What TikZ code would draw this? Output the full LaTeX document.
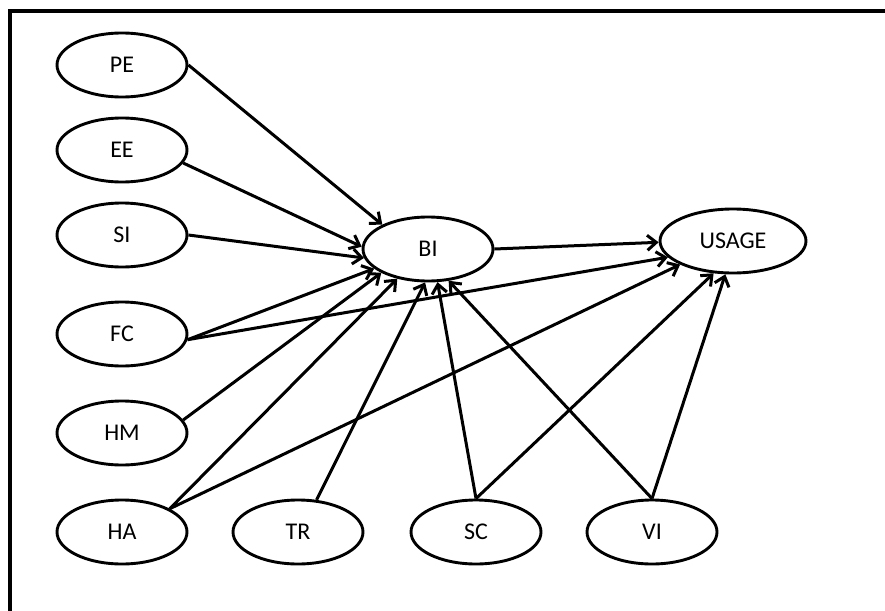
\documentclass[tikz,border=0pt]{standalone}
\usepackage{fontspec}
\setmainfont{Carlito}
\usetikzlibrary{arrows.meta,shapes.geometric}
\begin{document}
\begin{tikzpicture}[x=1pt,y=-1pt,
  construct/.style={draw, ellipse, line width=2.9pt, inner sep=0pt,
    minimum width=130pt, minimum height=64pt, font=\fontsize{24}{28}\selectfont},
  path/.style={line width=3pt, -{Straight Barb[length=9pt,width=15pt]}}]
  \useasboundingbox (0,0) rectangle (885,610);
  % outer frame
  \draw[line width=3.2pt] (10,612) -- (10,11) -- (888,11);

  % exogenous constructs
  \node[construct] (PE) at (122,65)  {PE};
  \node[construct] (EE) at (122,150) {EE};
  \node[construct] (SI) at (122,235) {SI};
  \node[construct] (FC) at (122,334) {FC};
  \node[construct] (HM) at (122,433) {HM};
  \node[construct] (HA) at (122,532) {HA};
  \node[construct] (TR) at (298,532) {TR};
  \node[construct] (SC) at (476,532) {SC};
  \node[construct] (VI) at (652,532) {VI};

  % endogenous constructs
  \node[construct] (BI) at (428,249) {BI};
  \node[construct, minimum width=146pt] (USAGE) at (733,241) {USAGE};

  % paths into behavioural intention
  \draw[path] (PE.0)   -- (BI.152);
  \draw[path] (EE.-12) -- (BI.178);
  \draw[path] (SI.0)   -- (BI.188);
  \draw[path] (FC.-5)  -- (BI.200);
  \draw[path] (HM.12)  -- (BI.207);
  \draw[path] (HA.26)  -- (BI.224);
  \draw[path] (TR.60)  -- (BI.265);
  \draw[path] (SC.90)  -- (BI.286);
  \draw[path] (VI.90)  -- (BI.303);

  % paths into usage
  \draw[path] (BI.0)   -- (USAGE.181);
  \draw[path] (FC.-5)  -- (USAGE.194);
  \draw[path] (HA.26)  -- (USAGE.204);
  \draw[path] (SC.90)  -- (USAGE.239);
  \draw[path] (VI.90)  -- (USAGE.257);
\end{tikzpicture}
\end{document}
